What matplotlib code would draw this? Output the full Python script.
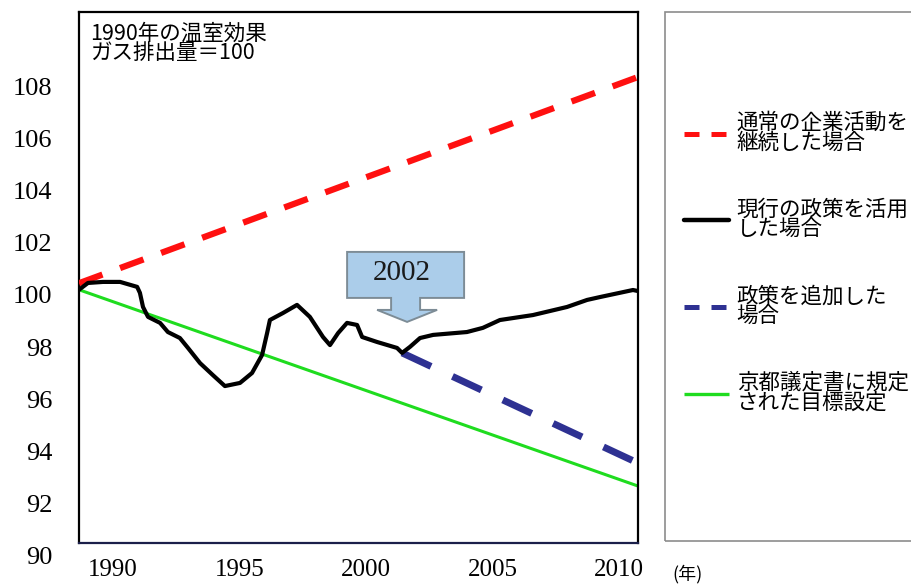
import matplotlib
matplotlib.use("Agg")
import matplotlib.pyplot as plt
import matplotlib.transforms as mtransforms
from matplotlib.patches import Polygon, Rectangle

# ---- data (index: 1990 greenhouse-gas emissions = 100) ----
years_bau = [1990, 2010]
values_bau = [100.45, 108.35]

years_current = [1990.0, 1990.32, 1990.86, 1991.47, 1992.08, 1992.18, 1992.29,
                 1992.47, 1992.90, 1993.18, 1993.61, 1993.90, 1994.33, 1994.79,
                 1995.22, 1995.76, 1996.19, 1996.55, 1996.73, 1996.83, 1997.30,
                 1997.80, 1998.26, 1998.73, 1998.98, 1999.27, 1999.59, 1999.95,
                 2000.13, 2000.66, 2001.13, 2001.38, 2001.56, 2001.84, 2002.20,
                 2002.67, 2003.88, 2004.45, 2005.06, 2006.24, 2007.46, 2008.18,
                 2008.64, 2009.82, 2010.0]
values_current = [100.2, 100.46, 100.5, 100.5, 100.31, 100.08, 99.54, 99.16,
                  98.93, 98.58, 98.35, 97.97, 97.39, 96.93, 96.51, 96.63, 97.01,
                  97.70, 98.54, 99.04, 99.31, 99.62, 99.16, 98.39, 98.08, 98.54,
                  98.93, 98.85, 98.39, 98.20, 98.05, 97.97, 97.78, 98.01, 98.35,
                  98.47, 98.58, 98.74, 99.04, 99.23, 99.54, 99.81, 99.92, 100.19,
                  100.15]

years_added = [2001.56, 2010]
values_added = [97.78, 93.56]

years_kyoto = [1990, 2010]
values_kyoto = [100.2, 92.68]

y_ticks = [90, 92, 94, 96, 98, 100, 102, 104, 106, 108]
year_ticks = [1990, 1995, 2000, 2005, 2010]

label_bau = "通常の企業活動を\n継続した場合"
label_current = "現行の政策を活用\nした場合"
label_added = "政策を追加した\n場合"
label_kyoto = "京都議定書に規定\nされた目標設定"
base_note = "1990年の温室効果\nガス排出量＝100"
callout_text = "2002"
year_unit = "(年)"

# ---- layout helpers (pixel -> figure fraction) ----
W, H = 912, 586
fig = plt.figure(figsize=(W / 100, H / 100), dpi=100)
fig.patch.set_facecolor("white")


def fx(px):
    return px / W


def fy(py):
    return 1 - py / H


JP = ["Noto Sans CJK JP", "DejaVu Sans"]
SERIF = "Liberation Serif"

ax = fig.add_axes([fx(79), fy(556), fx(638) - fx(79), fy(12) - fy(556)])
ax.set_xlim(1990, 2010)
ax.set_ylim(90, 110.84)

# frame: bottom edge sits slightly above the lowest tick value
ax.spines["bottom"].set_position(("data", 90.5))
ax.spines["bottom"].set_color("#1b1f4a")
for side in ["left", "right"]:
    ax.spines[side].set_bounds(90.5, 110.84)
for s in ax.spines.values():
    s.set_linewidth(1.6)

ax.set_xticks([])
ax.set_yticks(y_ticks)
ax.set_yticklabels([str(v) for v in y_ticks])
ax.tick_params(axis="y", length=0, pad=19, labelsize=19)
for lab in ax.get_yticklabels():
    lab.set_fontfamily(SERIF)

# separate scale carrying the year labels
axy = ax.twiny()
axy.set_xlim(1988.66, 2010.75)
axy.xaxis.set_ticks_position("bottom")
axy.set_xticks(year_ticks)
axy.set_xticklabels([str(y) for y in year_ticks])
axy.tick_params(axis="x", length=0, pad=2, labelsize=18)
for lab in axy.get_xticklabels():
    lab.set_fontfamily(SERIF)
for s in axy.spines.values():
    s.set_visible(False)

# ---- series ----
l_kyoto, = ax.plot(years_kyoto, values_kyoto, color="#1fdc1f", lw=2.2,
                   solid_capstyle="butt", zorder=2)
l_bau, = ax.plot(years_bau, values_bau, color="#ff1010", lw=4.5,
                 dashes=(4.0, 3.0), dash_capstyle="butt", zorder=3)
l_added, = ax.plot(years_added, values_added, color="#2e3192", lw=5,
                   dashes=(4.6, 3.4), dash_capstyle="butt", zorder=3)
l_current, = ax.plot(years_current, values_current, color="black", lw=3,
                     solid_joinstyle="round", solid_capstyle="round", zorder=4)

# ---- "2002" callout pointing at the start of the added-policy path ----
anchor = fig.dpi_scale_trans + mtransforms.ScaledTranslation(
    years_added[0], values_added[0], ax.transData)
tip_dx, tip_dy = 5, 31  # pixels above the break point
shape = [(-60, 70), (57, 70), (57, 24), (13, 24), (13, 12), (30, 12), (0, 0),
         (-30, 12), (-16, 12), (-16, 24), (-60, 24)]
verts = [((tip_dx + x) / 100, (tip_dy + y) / 100) for x, y in shape]
ax.add_patch(Polygon(verts, closed=True, transform=anchor, facecolor="#abcdea",
                     edgecolor="#7d8c96", lw=1.4, zorder=5, clip_on=False))
ax.text(0, 0.80, callout_text, transform=anchor, ha="center", va="center",
        fontsize=21, family=SERIF, color="#1a1a1a", zorder=6)

# ---- notes ----
fig.text(fx(90), fy(23), base_note, ha="left", va="top", fontsize=15.5,
         family=JP, linespacing=0.85)
fig.text(fx(672), fy(574), year_unit, ha="left", va="center", fontsize=13,
         family=JP)

# ---- legend panel ----
fig.add_artist(Rectangle((fx(665), fy(541)), 1.0, fy(12) - fy(541),
                         transform=fig.transFigure, fill=False,
                         edgecolor="#8c8c8c", lw=1.2))
leg = fig.legend(handles=[l_bau, l_current, l_added, l_kyoto],
                 labels=[label_bau, label_current, label_added, label_kyoto],
                 loc="upper left", bbox_to_anchor=(fx(684), fy(112)),
                 frameon=False, borderpad=0, borderaxespad=0,
                 handlelength=2.1, handletextpad=0.35, labelspacing=2.1,
                 prop={"family": JP, "size": 15.5})
for t in leg.get_texts():
    t.set_linespacing(0.85)
for h, lw in zip(leg.legend_handles, [3.6, 3.2, 3.6, 2.4]):
    h.set_linewidth(lw)
for h in (leg.legend_handles[0], leg.legend_handles[2]):
    h.set_dashes((3.0, 2.4))

fig.savefig("out.png", dpi=100, facecolor="white")
